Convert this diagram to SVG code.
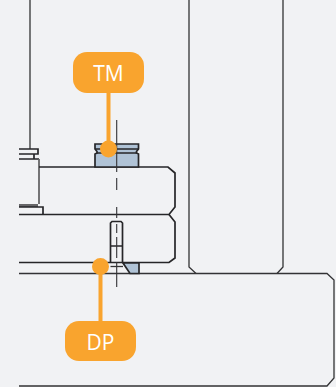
<svg xmlns="http://www.w3.org/2000/svg" width="336" height="387" viewBox="0 0 336 387">
<style>
.l{fill:none;stroke:#333335;stroke-width:1.3}
.t{fill:none;stroke:#262628;stroke-width:1.7}
.g{fill:none;stroke:#666668;stroke-width:1.8}
.b{fill:#b0c3d6;stroke:#262628;stroke-width:1.7}
.c{fill:none;stroke:#333335;stroke-width:1.1}
.o{fill:#f9a42e}
.s{stroke:#f9a42e;stroke-width:4;fill:none}
.x{font-family:"Open Sans","Noto Sans",sans-serif;font-size:21px;fill:#fff;text-anchor:middle;font-weight:400}
</style>
<rect width="336" height="387" fill="#f1f2f4"/>
<g id="drawing">
<path class="l" d="M30 0V149M189 0V267L196 273.5M283 0V267L277 273.5"/>
<path class="t" d="M19 149H38V154H19M19 159H39M34 154V159"/>
<path class="g" d="M39 159V204"/>
<path d="M19 204H38V207H19Z" fill="#666668"/>
<path class="t" d="M19 207H43V214.5"/>
<path class="t" d="M19 214.5H169L175 207V173L168 167H39"/>
<path class="t" d="M169 214.5L175 222V258L169 262.5H19"/>
<path class="l" d="M19 273.5H327L334 280V378L327 386H19"/>
<path class="b" d="M95 144H138.5V149L136.5 151.500V153L138.500 154V167H95V154L97 153V151.500L95 149Z"/>
<path class="t" d="M95 149H138.500M97 153H136.500"/>
<path class="t" d="M110.500 246V223L112 221.500H121L122.500 223V246ZM110.500 246V263M122.500 246V263"/>
<path class="l" d="M110.500 266.500H123"/>
<path class="b" d="M123 263H139V273.500H130Z"/>
<path class="c" d="M116.700 120V172M116.700 178V190M116.700 207V218M116.700 224V233M116.700 237V258M116.700 262V287"/>
</g>
<g id="connectors">
<path class="s" d="M108.500 93V149"/>
<path class="s" d="M100.500 266V321"/>
</g>
<g id="TM">
<circle class="o" cx="108.500" cy="149" r="8.500"/>
<rect class="o" x="73" y="52" width="71" height="41" rx="14"/>
<text class="x" x="108.500" y="81">TM</text>
</g>
<g id="DP">
<circle class="o" cx="100.500" cy="266.500" r="8.500"/>
<rect class="o" x="65" y="321" width="71" height="40" rx="14"/>
<text class="x" x="100.500" y="350">DP</text>
</g>
</svg>
